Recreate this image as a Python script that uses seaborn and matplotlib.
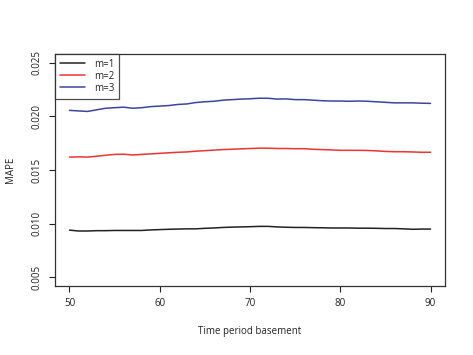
import numpy as np
import pandas as pd
import matplotlib
matplotlib.use("Agg")
import matplotlib.pyplot as plt
import seaborn as sns

# time period basement, 50..90
periods = list(range(50, 91))

mape_m1 = [0.0094, 0.00932, 0.00932, 0.00935, 0.00935, 0.00937, 0.00937, 0.00937, 0.00937, 0.00942,
           0.00945, 0.00948, 0.0095, 0.00952, 0.00952, 0.00957, 0.0096, 0.00965, 0.00968, 0.0097,
           0.00972, 0.00975, 0.00975, 0.0097, 0.00967, 0.00965, 0.00965, 0.00963, 0.00962, 0.0096,
           0.0096, 0.0096, 0.00958, 0.00958, 0.00957, 0.00955, 0.00955, 0.00952, 0.00948, 0.0095,
           0.0095]
mape_m2 = [0.0162, 0.01622, 0.0162, 0.01628, 0.01637, 0.01645, 0.01647, 0.0164, 0.01645, 0.0165,
           0.01655, 0.0166, 0.01665, 0.01668, 0.01675, 0.0168, 0.01685, 0.0169, 0.01693, 0.01697,
           0.017, 0.01703, 0.01703, 0.017, 0.017, 0.01698, 0.01698, 0.01693, 0.0169, 0.01687,
           0.01683, 0.01683, 0.01683, 0.01682, 0.01678, 0.01673, 0.0167, 0.0167, 0.01668, 0.01665,
           0.01665]
mape_m3 = [0.02055, 0.0205, 0.02045, 0.0206, 0.02075, 0.0208, 0.02085, 0.02075, 0.0208, 0.0209,
           0.02095, 0.021, 0.0211, 0.02115, 0.02128, 0.02135, 0.0214, 0.0215, 0.02155, 0.0216,
           0.02163, 0.02168, 0.02168, 0.0216, 0.02162, 0.02155, 0.02155, 0.0215, 0.02145, 0.02142,
           0.02142, 0.0214, 0.02142, 0.0214, 0.02135, 0.0213, 0.02125, 0.02125, 0.02125, 0.02122,
           0.0212]

series_names = ["m=1", "m=2", "m=3"]
colors = ["#222222", "#ee3333", "#3a45a0"]

df = pd.DataFrame({
    "period": periods * 3,
    "mape": mape_m1 + mape_m2 + mape_m3,
    "m": [n for n in series_names for _ in periods],
})

sns.set_style("white")
plt.rcParams["font.family"] = ["Open Sans", "DejaVu Sans"]

fig = plt.figure(figsize=(4.73, 3.55), dpi=100)
ax = fig.add_axes([0.1163, 0.1944, 0.8245, 0.6535])
sns.lineplot(data=df, x="period", y="mape", hue="m", palette=colors, linewidth=1.1, ax=ax)

ax.set_xlim(48.4, 91.6)
ax.set_ylim(0.0042, 0.0258)
ax.set_xticks([50, 60, 70, 80, 90])
ax.set_yticks([0.005, 0.010, 0.015, 0.020, 0.025])
ax.set_yticklabels(["0.005", "0.010", "0.015", "0.020", "0.025"], rotation=90, va="center")
ax.tick_params(axis="both", direction="out", length=4, width=0.8, color="#222222",
               labelsize=7, labelcolor="#222222", pad=5, left=True, bottom=True)
for s in ax.spines.values():
    s.set_color("#333333")
    s.set_linewidth(0.9)
ax.set_xlabel("Time period basement", fontsize=7, color="#222222", labelpad=12)
ax.set_ylabel("MAPE", fontsize=7, color="#222222", labelpad=11)

leg = ax.legend(loc="upper left", fontsize=7, frameon=True, fancybox=False,
                borderaxespad=0, handlelength=2.6, handletextpad=0.9,
                labelspacing=0.1, borderpad=0.5, title=None)
leg.get_frame().set_edgecolor("#222222")
leg.get_frame().set_linewidth(0.9)
for h in leg.get_lines():
    h.set_linewidth(1.1)

fig.savefig("out.png", dpi=100)
